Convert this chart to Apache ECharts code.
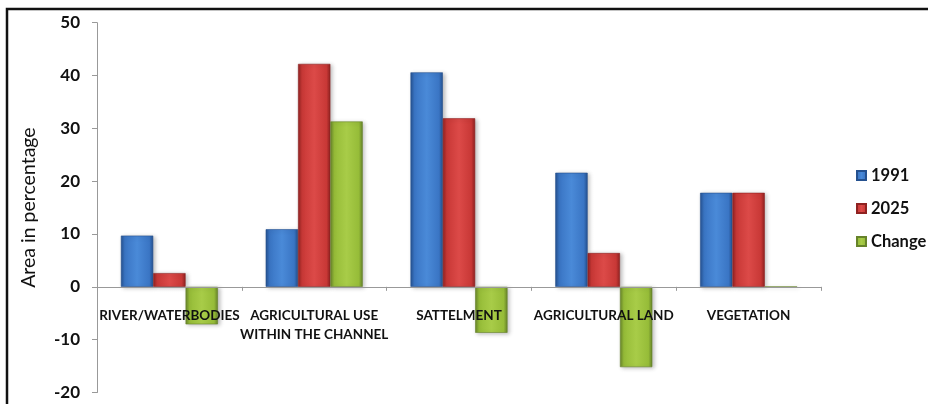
<!DOCTYPE html>
<html>
<head>
<meta charset="utf-8">
<script src="https://cdn.jsdelivr.net/npm/echarts@6/dist/echarts.min.js"></script>
<style>
  html, body { margin: 0; padding: 0; background: #fff; }
  #chart { width: 928px; height: 404px; }
</style>
</head>
<body>
<div id="chart"></div>
<script>
// Land use categories and area shares (%)
const categories = ['RIVER/WATERBODIES', 'AGRICULTURAL USE\nWITHIN THE CHANNEL', 'SATTELMENT', 'AGRICULTURAL LAND', 'VEGETATION'];
const values1991 = [9.7, 10.9, 40.6, 21.6, 17.8];
const values2025 = [2.6, 42.2, 31.9, 6.4, 17.8];
const valuesChange = [-7.1, 31.3, -8.7, -15.2, 0];
const yTicks = { min: -20, max: 50, step: 10 };

// Bevelled-looking fill: dark edges, lighter middle
function bevel(light, mid, dark) {
  return new echarts.graphic.LinearGradient(0, 0, 1, 0, [
    { offset: 0, color: dark },
    { offset: 0.12, color: mid },
    { offset: 0.5, color: light },
    { offset: 0.88, color: mid },
    { offset: 1, color: dark }
  ]);
}

const font = 'Lato, "Open Sans", sans-serif';

function barSeries(name, data, light, mid, dark) {
  return {
    name: name,
    type: 'bar',
    data: data,
    barGap: '0%',
    barCategoryGap: '33%',
    itemStyle: {
      color: bevel(light, mid, dark),
      borderColor: dark,
      borderWidth: 0.6,
      shadowColor: 'rgba(0,0,0,0.25)',
      shadowBlur: 4,
      shadowOffsetX: 2,
      shadowOffsetY: 1
    }
  };
}

const chart = echarts.init(document.getElementById('chart'), null, { renderer: 'canvas' });
chart.setOption({
  backgroundColor: '#ffffff',
  animation: false,
  graphic: [{
    type: 'polyline',
    shape: { points: [[7, 420], [7, 9], [940, 9]] },
    style: { stroke: '#111', lineWidth: 2.5, fill: null }
  }],
  legend: {
    orient: 'vertical',
    left: 851,
    top: 162,
    itemWidth: 9,
    itemHeight: 9,
    itemGap: 16,
    icon: 'rect',
    textStyle: { fontFamily: font, fontWeight: 'bold', fontSize: 16.5, color: '#111', padding: [0, 0, 0, 0] },
    data: ['1991', '2025', 'Change']
  },
  grid: { left: 97, right: 107, top: 22.7, bottom: 11.5, containLabel: false, outerBoundsMode: 'none' },
  xAxis: {
    type: 'category',
    data: categories,
    axisLine: { onZero: true, lineStyle: { color: '#999', width: 1 } },
    axisTick: { show: true, length: 4, lineStyle: { color: '#999' } },
    axisLabel: {
      interval: 0,
      // labels sit just under the zero line
      margin: -86,
      fontFamily: font,
      fontWeight: 'bold',
      fontSize: 13.5,
      color: '#111',
      lineHeight: 19
    },
    z: 5
  },
  yAxis: {
    type: 'value',
    min: yTicks.min,
    max: yTicks.max,
    interval: yTicks.step,
    name: 'Area in percentage',
    nameLocation: 'middle',
    nameGap: 58,
    nameTextStyle: { fontFamily: font, fontSize: 19.5, color: '#111' },
    axisLine: { show: true, lineStyle: { color: '#999' } },
    axisTick: { show: true, length: 5, lineStyle: { color: '#999' } },
    splitLine: { show: false },
    axisLabel: { margin: 17, fontFamily: font, fontWeight: 'bold', fontSize: 17, color: '#111' }
  },
  series: [
    barSeries('1991', values1991, '#4a8ad8', '#3a75c4', '#25518f'),
    barSeries('2025', values2025, '#dc4a48', '#c83836', '#8f2221'),
    barSeries('Change', valuesChange, '#a8cc48', '#96bc38', '#66832a')
  ],
  color: ['#3a75c4', '#c83836', '#96bc38']
});
</script>
</body>
</html>
